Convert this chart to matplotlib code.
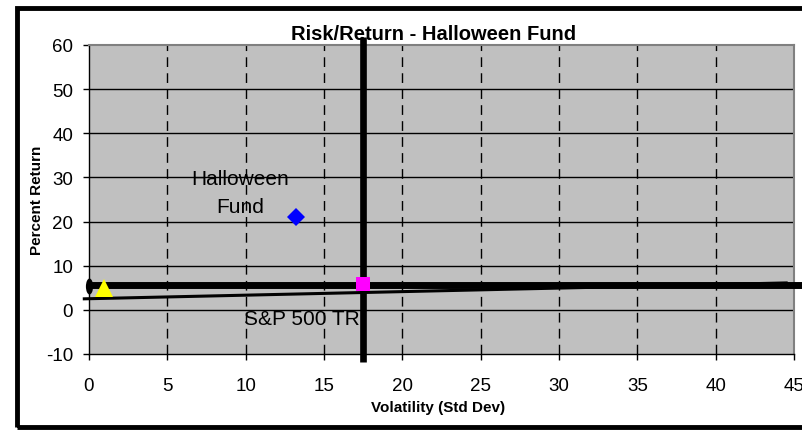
import matplotlib
matplotlib.use("Agg")
import matplotlib.pyplot as plt
from matplotlib.patches import Rectangle
from matplotlib.path import Path
from matplotlib.transforms import Affine2D

plt.rcParams['font.family'] = ['Liberation Sans', 'DejaVu Sans']
plt.rcParams['axes.unicode_minus'] = False

# Data
fund_name = "Halloween\nFund"
fund_vol = [13.2]
fund_ret = [21.0]
sp_name = "S&P 500 TR"
sp_vol = [17.5]
sp_ret = [5.8]
rf_vol = [0.95]
rf_ret = [5.0]
zero_vol = [0.0]
zero_ret = [5.5]
# reference lines
hline_x = [0.0, 46.2]
hline_y = [5.7, 5.7]
vline_x = [17.5, 17.5]
vline_y = [-11.8, 61.8]
thin_x = [-0.3, 44.5]
thin_y = [2.5, 6.1]
xticks = [0, 5, 10, 15, 20, 25, 30, 35, 40, 45]
yticks = [-10, 0, 10, 20, 30, 40, 50, 60]

fig = plt.figure(figsize=(8.03, 4.31), dpi=100)
fig.patch.set_facecolor('white')
ax = fig.add_axes([89/803, 1-355/431, (794-89)/803, (355-46)/431])
ax.set_facecolor('#C0C0C0')
ax.set_xlim(0, 45)
ax.set_ylim(-10, 60)
ax.set_xticks(xticks)
ax.set_yticks(yticks)
ax.tick_params(axis='both', labelsize=13.5, direction='out', length=4.5, width=1, color='black')
ax.tick_params(axis='x', pad=12)
ax.tick_params(axis='y', pad=7)
for s in ax.spines.values():
    s.set_color('#808080')
    s.set_linewidth(1.5)
ax.spines['left'].set_color('black')
ax.spines['left'].set_linewidth(1.0)
ax.spines['bottom'].set_color('black')
ax.spines['bottom'].set_linewidth(1.0)

for y in yticks[1:-1]:
    ax.axhline(y, color='black', lw=1.0, zorder=1)
for x in xticks[1:-1]:
    ax.axvline(x, color='black', lw=1.0, ls=(0, (7, 4.5)), zorder=1)

ax.plot(thin_x, thin_y, color='black', lw=2.2, zorder=3, clip_on=False)
ax.plot(hline_x, hline_y, color='black', lw=5.0, zorder=3, clip_on=False, solid_capstyle='butt')
ax.plot(vline_x, vline_y, color='black', lw=4.8, zorder=3, clip_on=False, solid_capstyle='butt')

ellipse = Path.unit_circle().transformed(Affine2D().scale(0.45, 1.0))
ax.plot(zero_vol, zero_ret, marker=ellipse, ms=11.5, color='black', markeredgewidth=0,
        zorder=4, clip_on=False, ls='none')
ax.plot(rf_vol, rf_ret, marker='^', ms=13.5, color='#FFFF00', markeredgewidth=0, zorder=5, ls='none')
ax.plot(fund_vol, fund_ret, marker='D', ms=9, color='#0000FF', markeredgewidth=0, zorder=5, ls='none')
ax.plot(sp_vol, sp_ret, marker='s', ms=10.5, color='#FF00FF', markeredgewidth=0, zorder=5, ls='none')

ax.text(9.65, 26.6, fund_name, ha='center', va='center', fontsize=15, linespacing=1.55, zorder=6)
ax.text(13.6, -2.0, sp_name, ha='center', va='center', fontsize=15, zorder=6)

fig.text(438/803, 1-408/431, "Volatility (Std Dev)", ha='center', va='center',
         fontsize=11, fontweight='bold')
fig.text(37.5/803, 1-200/431, "Percent Return", ha='center', va='center', rotation=90,
         fontsize=11, fontweight='bold')
fig.text(434/803, 1-34/431, "Risk/Return - Halloween Fund", ha='center', va='center',
         fontsize=14.5, fontweight='bold')

fig.add_artist(Rectangle((17/803, 1-428/431), 1.0, (428-9)/431, transform=fig.transFigure,
                         fill=False, edgecolor='black', lw=3.5, clip_on=False))

fig.savefig("out.png", dpi=100)
